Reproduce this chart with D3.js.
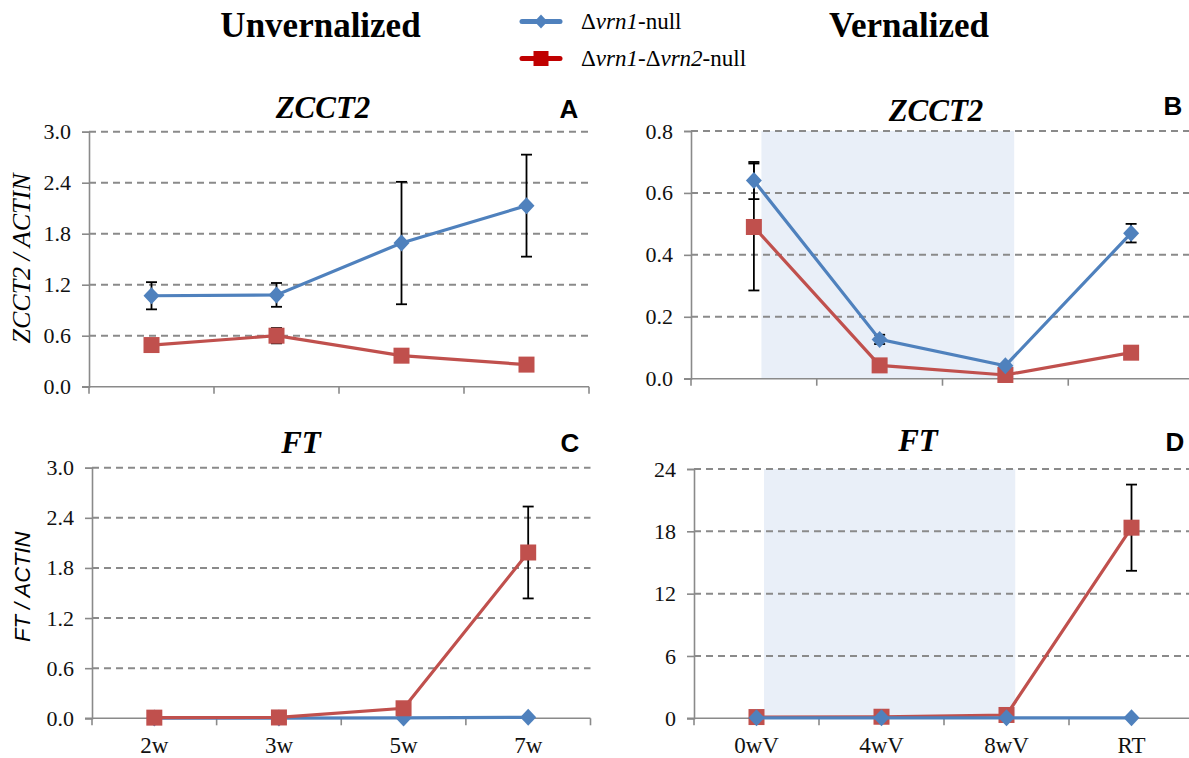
<!DOCTYPE html>
<html>
<head>
<meta charset="utf-8">
<script src="https://cdn.jsdelivr.net/npm/d3@7"></script>
<style>
  html, body { margin: 0; padding: 0; background: #fff; }
  svg { display: block; }
</style>
</head>
<body>
<svg id="chart" width="1189" height="758"></svg>
<script>
// ---------------- data ----------------
const categoriesUnvern = ["2w", "3w", "5w", "7w"];
const categoriesVern = ["0wV", "4wV", "8wV", "RT"];

const zcctUnvernVrn1 = [1.07, 1.08, 1.69, 2.13];
const zcctUnvernVrn1Err = [0.16, 0.14, 0.72, 0.60];
const zcctUnvernDouble = [0.49, 0.60, 0.365, 0.26];
const zcctUnvernDoubleErr = [0, 0.09, 0, 0];

const zcctVernVrn1 = [0.64, 0.127, 0.042, 0.47];
const zcctVernVrn1Err = [0.06, 0.015, 0, 0.03];
const zcctVernDouble = [0.49, 0.043, 0.012, 0.084];
const zcctVernDoubleErr = [0.205, 0, 0, 0];

const ftUnvernVrn1 = [0.003, 0.003, 0.005, 0.012];
const ftUnvernVrn1Err = [0, 0, 0, 0];
const ftUnvernDouble = [0.008, 0.01, 0.12, 1.985];
const ftUnvernDoubleErr = [0, 0, 0, 0.55];

const ftVernVrn1 = [0.05, 0.05, 0.05, 0.05];
const ftVernVrn1Err = [0, 0, 0, 0];
const ftVernDouble = [0.12, 0.15, 0.32, 18.35];
const ftVernDoubleErr = [0, 0, 0, 4.15];

const ticksUnvern = [0, 0.6, 1.2, 1.8, 2.4, 3.0];
const ticksZcctVern = [0, 0.2, 0.4, 0.6, 0.8];
const ticksFtVern = [0, 6, 12, 18, 24];

// vernalization period shading, in category-index units
const shadeSpan = [0.06, 2.07];

// ---------------- style ----------------
const BLUE = "#4F81BD";
const RED = "#C0504D";
const LEG_RED = "#C00000";
const GRID = "#8a8a8a";
const AXIS = "#8a8a8a";
const SERIF = "Liberation Serif";
const SANS = "Liberation Sans";

const svg = d3.select("#chart");

function drawPanel(cfg) {
  const g = svg.append("g");
  const x = d3.scaleBand().domain(cfg.cats).range([cfg.left, cfg.right]).paddingInner(0).paddingOuter(0);
  const bw = x.bandwidth();
  const cx = c => x(c) + bw / 2;
  const xi = d3.scaleLinear().domain([-0.5, cfg.cats.length - 0.5]).range([cfg.left, cfg.right]);
  const y = d3.scaleLinear().domain([0, d3.max(cfg.ticks)]).range([cfg.bottom, cfg.top]);

  // shading
  if (cfg.shade) {
    g.append("rect")
      .attr("x", xi(cfg.shade[0]))
      .attr("y", y(d3.max(cfg.ticks)))
      .attr("width", xi(cfg.shade[1]) - xi(cfg.shade[0]))
      .attr("height", y(0) - y(d3.max(cfg.ticks)))
      .attr("fill", "#e9eff8");
  }

  // gridlines
  g.selectAll("line.grid").data(cfg.ticks.filter(t => t > 0)).enter().append("line")
    .attr("x1", cfg.left).attr("x2", cfg.right)
    .attr("y1", d => y(d)).attr("y2", d => y(d))
    .attr("stroke", GRID).attr("stroke-width", 2).attr("stroke-dasharray", "7,5");

  // y axis
  const yAxis = d3.axisLeft(y).tickValues(cfg.ticks).tickSize(7).tickPadding(11)
    .tickFormat(cfg.fmt);
  const ya = g.append("g").attr("transform", `translate(${cfg.left},0)`).call(yAxis)
    .attr("font-family", SERIF).attr("font-size", 22);
  ya.select(".domain").attr("stroke", AXIS).attr("stroke-width", 1.6);
  ya.selectAll(".tick line").attr("stroke", AXIS).attr("stroke-width", 1.6);
  ya.selectAll(".tick text").style("font-family", SERIF).style("font-size", "22px").attr("fill", "#111");

  // x axis line + boundary ticks
  g.append("line").attr("x1", cfg.left - 7).attr("x2", cfg.right)
    .attr("y1", y(0)).attr("y2", y(0)).attr("stroke", AXIS).attr("stroke-width", 1.6);
  const bounds = d3.range(cfg.cats.length + 1).map(i => i - 0.5);
  g.selectAll("line.xtick").data(bounds).enter().append("line")
    .attr("x1", d => xi(d)).attr("x2", d => xi(d))
    .attr("y1", y(0)).attr("y2", y(0) + 7)
    .attr("stroke", AXIS).attr("stroke-width", 1.6);

  if (cfg.showLabels) {
    const xa = g.append("g").attr("transform", `translate(0,${y(0)})`)
      .call(d3.axisBottom(x).tickSize(0).tickPadding(18))
      .attr("font-family", SERIF).attr("font-size", 23);
    xa.select(".domain").remove();
    xa.selectAll(".tick text").style("font-family", SERIF).style("font-size", "23px").attr("fill", "#111");
  }

  // series
  cfg.series.forEach(s => {
    const pts = cfg.cats.map((c, i) => ({ c, v: s.values[i], e: s.err[i] }));
    // error bars
    const eb = g.append("g");
    pts.filter(p => p.e > 0).forEach(p => {
      eb.append("line").attr("x1", cx(p.c)).attr("x2", cx(p.c))
        .attr("y1", y(p.v + p.e)).attr("y2", y(p.v - p.e))
        .attr("stroke", "#000").attr("stroke-width", 1.8);
      [p.v + p.e, p.v - p.e].forEach(v => {
        eb.append("line").attr("x1", cx(p.c) - 5.5).attr("x2", cx(p.c) + 5.5)
          .attr("y1", y(v)).attr("y2", y(v))
          .attr("stroke", "#000").attr("stroke-width", 1.8);
      });
    });
    // line
    g.append("path").datum(pts)
      .attr("d", d3.line().x(p => cx(p.c)).y(p => y(p.v)))
      .attr("fill", "none").attr("stroke", s.color).attr("stroke-width", 3.2);
    // markers
    if (s.shape === "diamond") {
      g.selectAll(null).data(pts).enter().append("path")
        .attr("transform", p => `translate(${cx(p.c)},${y(p.v)})`)
        .attr("d", "M0,-8.5L8,0L0,8.5L-8,0Z")
        .attr("fill", s.color);
    } else {
      g.selectAll(null).data(pts).enter().append("rect")
        .attr("x", p => cx(p.c) - 8).attr("y", p => y(p.v) - 8)
        .attr("width", 16).attr("height", 16)
        .attr("fill", s.color);
    }
  });

  // panel title
  g.append("text").attr("x", cfg.titleX).attr("y", cfg.titleY)
    .attr("text-anchor", "middle").style("font-family", SERIF)
    .attr("font-weight", "bold").attr("font-style", "italic").attr("font-size", 31)
    .text(cfg.title);
  // panel letter
  g.append("text").attr("x", cfg.letterX).attr("y", cfg.letterY)
    .attr("text-anchor", "middle").style("font-family", SANS)
    .attr("font-weight", "bold").attr("font-size", 26)
    .text(cfg.letter);
}

const fmt1 = d3.format(".1f");
const fmt0 = d3.format("d");

const blueS = (v, e) => ({ values: v, err: e, color: BLUE, shape: "diamond" });
const redS = (v, e) => ({ values: v, err: e, color: RED, shape: "square" });

drawPanel({
  cats: categoriesUnvern, left: 89, right: 589, top: 131.7, bottom: 386.7,
  ticks: ticksUnvern, fmt: fmt1, showLabels: false,
  series: [redS(zcctUnvernDouble, zcctUnvernDoubleErr), blueS(zcctUnvernVrn1, zcctUnvernVrn1Err)],
  title: "ZCCT2", titleX: 323, titleY: 118, letter: "A", letterX: 569, letterY: 118
});
drawPanel({
  cats: categoriesVern, left: 691, right: 1194, top: 131, bottom: 378.7,
  ticks: ticksZcctVern, fmt: fmt1, showLabels: false, shade: shadeSpan,
  series: [redS(zcctVernDouble, zcctVernDoubleErr), blueS(zcctVernVrn1, zcctVernVrn1Err)],
  title: "ZCCT2", titleX: 936, titleY: 121, letter: "B", letterX: 1173, letterY: 115
});
drawPanel({
  cats: categoriesUnvern, left: 92, right: 590.5, top: 467.7, bottom: 718.3,
  ticks: ticksUnvern, fmt: fmt1, showLabels: true,
  series: [blueS(ftUnvernVrn1, ftUnvernVrn1Err), redS(ftUnvernDouble, ftUnvernDoubleErr)],
  title: "FT", titleX: 301, titleY: 453, letter: "C", letterX: 570, letterY: 452
});
drawPanel({
  cats: categoriesVern, left: 694, right: 1194, top: 469, bottom: 718.3,
  ticks: ticksFtVern, fmt: fmt0, showLabels: true, shade: shadeSpan,
  series: [redS(ftVernDouble, ftVernDoubleErr), blueS(ftVernVrn1, ftVernVrn1Err)],
  title: "FT", titleX: 918, titleY: 451, letter: "D", letterX: 1175, letterY: 451
});

// y-axis titles
svg.append("text").attr("transform", "translate(30,258.5) rotate(-90)")
  .attr("text-anchor", "middle").style("font-family", SERIF).attr("font-style", "italic")
  .attr("font-size", 26).text("ZCCT2 / ACTIN");
svg.append("text").attr("transform", "translate(30,586.7) rotate(-90)")
  .attr("text-anchor", "middle").style("font-family", SANS).attr("font-style", "italic")
  .attr("font-size", 22).text("FT / ACTIN");

// big headers
svg.append("text").attr("x", 320.5).attr("y", 37).attr("text-anchor", "middle")
  .style("font-family", SERIF).attr("font-weight", "bold").attr("font-size", 35).text("Unvernalized");
svg.append("text").attr("x", 909).attr("y", 37).attr("text-anchor", "middle")
  .style("font-family", SERIF).attr("font-weight", "bold").attr("font-size", 35).text("Vernalized");

// legend
const legend = svg.append("g");
const legItems = [
  { color: BLUE, shape: "diamond", y: 21.5, parts: [["Δ", false], ["vrn1", true], ["-null", false]] },
  { color: LEG_RED, shape: "square", y: 58.5, parts: [["Δ", false], ["vrn1", true], ["-Δ", false], ["vrn2", true], ["-null", false]] }
];
legItems.forEach(it => {
  legend.append("line").attr("x1", 522).attr("x2", 560).attr("y1", it.y).attr("y2", it.y)
    .attr("stroke", it.color).attr("stroke-width", 5).attr("stroke-linecap", "round");
  if (it.shape === "diamond") {
    legend.append("path").attr("transform", `translate(541,${it.y})`)
      .attr("d", "M0,-7L6.5,0L0,7L-6.5,0Z").attr("fill", it.color);
  } else {
    legend.append("rect").attr("x", 533.5).attr("y", it.y - 7.5).attr("width", 15).attr("height", 15)
      .attr("fill", it.color);
  }
  const t = legend.append("text").attr("x", 581).attr("y", it.y + 7)
    .style("font-family", SERIF).attr("font-size", 23);
  it.parts.forEach(p => {
    t.append("tspan").attr("font-style", p[1] ? "italic" : "normal").text(p[0]);
  });
});
</script>
</body>
</html>
